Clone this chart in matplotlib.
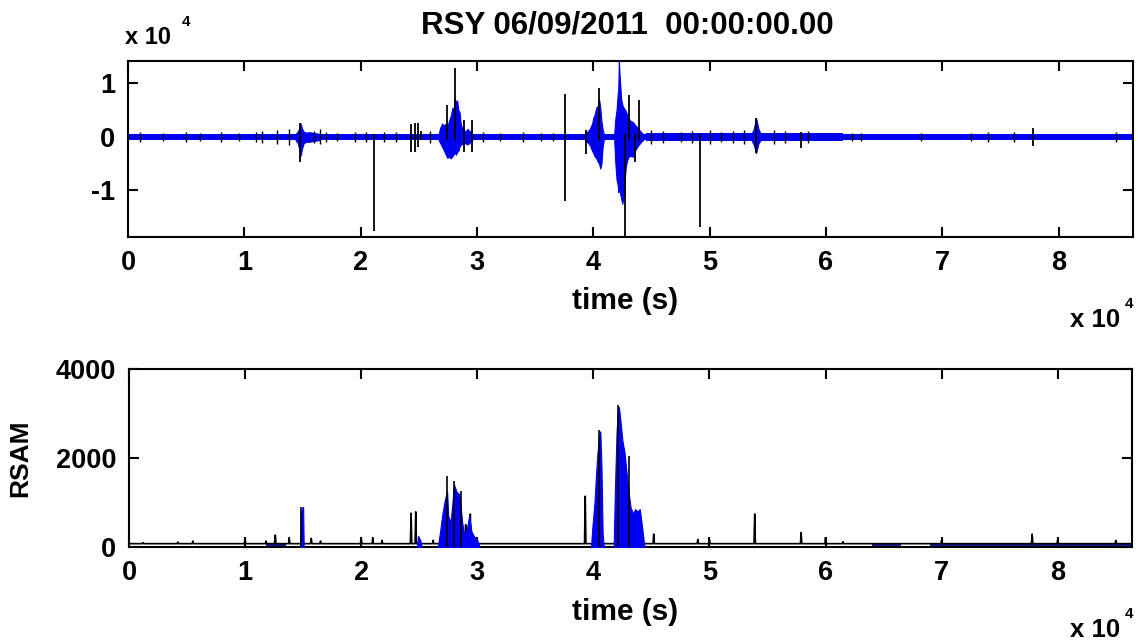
import numpy as np
import matplotlib
matplotlib.use("Agg")
import matplotlib.pyplot as plt

plt.rcParams['font.family'] = ['Liberation Sans', 'DejaVu Sans']
plt.rcParams['font.weight'] = 'bold'

# ---------------- data: seismogram (counts) ----------------
seis_bg_start = [0, 10000, 24000, 31500, 44500, 61500]
seis_bg_end = [10000, 24000, 31500, 44500, 61500, 86400]
seis_bg_amp = [550, 550, 600, 550, 700, 500]

burst_a_t = [14400, 14600, 14750, 14850, 14950, 15100, 15300, 15600, 16500]
burst_a_up = [550, 1000, 1800, 2500, 1600, 1000, 800, 900, 550]
burst_a_lo = [-550, -1200, -2500, -3500, -2200, -1200, -900, -900, -550]

burst_b_t = [26700, 26850, 27000, 27150, 27300, 27450, 27600, 27750, 27900, 28000, 28100, 28200, 28300,
             28400, 28500, 28600, 28700, 28850, 29000, 29200, 29400, 29600]
burst_b_up = [550, 1800, 2500, 2200, 2400, 2000, 3000, 4000, 5500, 5000, 7200, 6400, 6800, 5000, 4700,
              2500, 1800, 1500, 1000, 1500, 1000, 550]
burst_b_lo = [-550, -1200, -1800, -2500, -3200, -3900, -3700, -4000, -3600, -3200, -3000, -3300, -2800,
              -2600, -1800, -1500, -1300, -1000, -1200, -1400, -1000, -550]

burst_c_t = [39300, 39500, 39700, 39900, 40000, 40100, 40200, 40300, 40400, 40500, 40600, 40700, 40800,
             40900]
burst_c_up = [550, 1000, 1500, 2500, 3600, 4000, 5000, 5700, 5500, 7000, 5500, 3000, 1500, 550]
burst_c_lo = [-550, -1000, -1500, -2600, -3000, -3600, -3800, -4200, -4700, -5000, -5900, -5000, -2000,
              -550]

burst_d_t = [41800, 41900, 42000, 42100, 42150, 42200, 42250, 42300, 42400, 42500, 42600, 42700, 42800,
             42900, 43000, 43200, 43400, 43600, 43800, 44000, 44150, 44300]
burst_d_up = [550, 3500, 5000, 8000, 9000, 14100, 12000, 10300, 7000, 6000, 5500, 5200, 4800, 4200,
              3600, 3000, 2800, 2200, 1800, 1200, 800, 550]
burst_d_lo = [-550, -5000, -8000, -9000, -10300, -10000, -9500, -10500, -11500, -12500, -11000, -8000,
              -5500, -4500, -3800, -3500, -3700, -2500, -1800, -1200, -800, -550]

burst_e_t = [53600, 53800, 54000, 54200, 54400]
burst_e_up = [550, 1500, 3500, 1500, 550]
burst_e_lo = [-550, -1500, -3000, -1200, -550]

spike_t = [14800, 21150, 24350, 24650, 24900, 25200, 28100, 27450, 28900, 29600, 37600, 39400, 40500,
           42700, 43100, 43550, 43900, 49200, 54000, 57900, 77800]
spike_hi = [2700, 600, 2500, 2700, 2600, 1200, 12800, 5900, 3100, 3100, 8100, 1250, 9100,
            600, 7800, 600, 6900, 600, 3600, 900, 1700]
spike_lo = [-4600, -17600, -2800, -2800, -1800, -600, -600, -600, -2800, -2800, -11900, -3100, -600,
            -18700, -600, -4700, -600, -16900, -3000, -2000, -1600]

tick_t = [1000, 3000, 5000, 6200, 8000, 9500, 11000, 11500, 12800, 13800, 16000, 16500, 17000, 18000,
          19500, 20500, 22000, 23000, 26000, 30500, 32000, 34000, 35500, 36500, 45000, 46000, 47500,
          48500, 50000, 51000, 52000, 53000, 55500, 56500, 58500, 62200, 63000, 68200, 72500, 73900,
          76200, 84900]
tick_a = [900, 800, 900, 800, 900, 800, 900, 1100, 1300, 1500, 1200, 1400, 1000, 800, 900, 1000, 900,
          1000, 1100, 1000, 800, 900, 800, 800, 1300, 1200, 1000, 1100, 1300, 1000, 1200, 1300, 1300,
          1200, 1100, 800, 700, 800, 800, 900, 1000, 900]

# ---------------- data: RSAM ----------------
rsam_base = 75
rsam_spike_t = [1200, 4200, 5500, 10000, 11800, 12600, 13800, 15700, 16500, 20000, 21000, 21800, 24300,
                24700, 26200, 29000, 29400, 39300, 45200, 49000, 50000, 53900, 57900, 60000, 61500,
                70000, 77800, 80000, 85000]
rsam_spike_v = [100, 110, 135, 195, 135, 270, 210, 195, 135, 210, 210, 150, 760, 790, 150, 500, 740,
                1140, 290, 170, 170, 740, 325, 210, 120, 150, 290, 170, 150]

rsam_a_t = [14750, 14800, 14850, 14950, 15000, 15050]
rsam_a_v = [0, 780, 780, 900, 900, 0]
rsam_b_t = [24800, 24900, 25100, 25200]
rsam_b_v = [0, 250, 150, 0]
rsam_c_t = [26600, 26800, 27000, 27200, 27400, 27500, 27700, 27900, 28000, 28200, 28400, 28500, 28700,
            28900, 29100, 29300, 29500, 29700, 30000, 30200]
rsam_c_v = [0, 350, 750, 1050, 1250, 700, 550, 1100, 1400, 1250, 1200, 1100, 550, 250, 400, 700, 350,
            250, 150, 0]
rsam_d_t = [39800, 39900, 40000, 40100, 40200, 40350, 40500, 40600, 40700, 40800, 40900]
rsam_d_v = [0, 400, 700, 1000, 1500, 2100, 2450, 2600, 1800, 300, 0]
rsam_e_t = [41750, 41850, 42000, 42100, 42200, 42350, 42500, 42700, 42850, 43000, 43200, 43400, 43600,
            43800, 44000, 44200, 44400]
rsam_e_v = [0, 1200, 2600, 3000, 3150, 2800, 2400, 2100, 1700, 1300, 900, 750, 850, 800, 850, 450, 0]

rsam_peak_t = [14850, 27400, 28000, 28600, 40500, 42100, 43100]
rsam_peak_v = [910, 1590, 1490, 1265, 2620, 3185, 2055]

rsam_band_start = [11800, 64000, 69000]
rsam_band_end = [13500, 66500, 86400]
rsam_band_h = [60, 65, 65]

x_ticks = [0, 10000, 20000, 30000, 40000, 50000, 60000, 70000, 80000]
x_ticklabels = ['0', '1', '2', '3', '4', '5', '6', '7', '8']
seis_yticks = [-10000, 0, 10000]
seis_yticklabels = ['-1', '0', '1']
rsam_yticks = [0, 2000, 4000]
rsam_yticklabels = ['0', '2000', '4000']

title = 'RSY 06/09/2011  00:00:00.00'

# ---------------- figure ----------------
W, H = 1138, 644
fig = plt.figure(figsize=(W / 100, H / 100), dpi=100)
fig.patch.set_facecolor('white')


def px_rect(l, t, r, b):
    return [l / W, 1 - b / H, (r - l) / W, (b - t) / H]


def fx(x):
    return x / W


def fy(y):
    return 1 - y / H


BLUE = '#0000f0'
ax1 = fig.add_axes(px_rect(128, 61, 1133, 237))
ax2 = fig.add_axes(px_rect(129, 369, 1132, 547))

# --- seismogram ---
for s, e, a in zip(seis_bg_start, seis_bg_end, seis_bg_amp):
    ax1.fill_between([s, e], [-a, -a], [a, a], color=BLUE, lw=0, zorder=2)
for bt, bu, bl in [(burst_a_t, burst_a_up, burst_a_lo), (burst_b_t, burst_b_up, burst_b_lo),
                   (burst_c_t, burst_c_up, burst_c_lo), (burst_d_t, burst_d_up, burst_d_lo),
                   (burst_e_t, burst_e_up, burst_e_lo)]:
    ax1.fill_between(bt, bl, bu, facecolor=BLUE, edgecolor=BLUE, lw=0.8, zorder=3)
ax1.vlines(tick_t, [-a for a in tick_a], tick_a, color='black', lw=1.0, zorder=4)
ax1.vlines(spike_t, spike_lo, spike_hi, color='black', lw=1.3, zorder=4)
ax1.set_xlim(0, 86400)
ax1.set_ylim(-18700, 14200)
ax1.set_yticks(seis_yticks)
ax1.set_yticklabels(seis_yticklabels)

# --- RSAM ---
lt, lv = [0], [rsam_base]
for t, v in sorted(zip(rsam_spike_t, rsam_spike_v)):
    lt += [t - 60, t, t + 60]
    lv += [rsam_base, v, rsam_base]
lt.append(86400)
lv.append(rsam_base)
for s, e, h in zip(rsam_band_start, rsam_band_end, rsam_band_h):
    ax2.fill_between([s, e], [0, 0], [h, h], color='#1c1c9c', lw=0, zorder=2)
ax2.plot(lt, lv, color='black', lw=1.2, zorder=2.5)
for bt, bv in [(rsam_a_t, rsam_a_v), (rsam_b_t, rsam_b_v), (rsam_c_t, rsam_c_v),
               (rsam_d_t, rsam_d_v), (rsam_e_t, rsam_e_v)]:
    ax2.fill_between(bt, 0, bv, facecolor=BLUE, edgecolor=BLUE, lw=0.8, zorder=3)
ax2.vlines(rsam_peak_t, 0, rsam_peak_v, color='black', lw=1.2, zorder=4)
ax2.set_xlim(0, 86400)
ax2.set_ylim(0, 4000)
ax2.set_yticks(rsam_yticks)
ax2.set_yticklabels(rsam_yticklabels)

for ax in (ax1, ax2):
    ax.set_xticks(x_ticks)
    ax.set_xticklabels(x_ticklabels)
    ax.tick_params(direction='in', length=7, width=1.5, top=True, right=True,
                   labelsize=19.5, pad=9)
    for sp in ax.spines.values():
        sp.set_linewidth(1.5)
    ax.set_xlabel('time (s)', fontsize=21.5, fontweight='bold')
    ax.xaxis.set_label_coords(0.495, -0.285)

# --- texts ---
fig.text(fx(627), fy(26), title, ha='center', va='center', fontsize=22.5, fontweight='bold')
fig.text(fx(125), fy(38), 'x 10', ha='left', va='center', fontsize=17, fontweight='bold')
fig.text(fx(182), fy(22), '4', ha='left', va='center', fontsize=11, fontweight='bold')
for yy in (320, 630):
    fig.text(fx(1070), fy(yy), 'x 10', ha='left', va='center', fontsize=18.5, fontweight='bold')
    fig.text(fx(1125), fy(yy - 16), '4', ha='left', va='center', fontsize=11, fontweight='bold')
fig.text(fx(20), fy(458), 'RSAM', rotation=90, ha='center', va='center', fontsize=19, fontweight='bold')

fig.savefig('out.png', dpi=100, facecolor='white')
